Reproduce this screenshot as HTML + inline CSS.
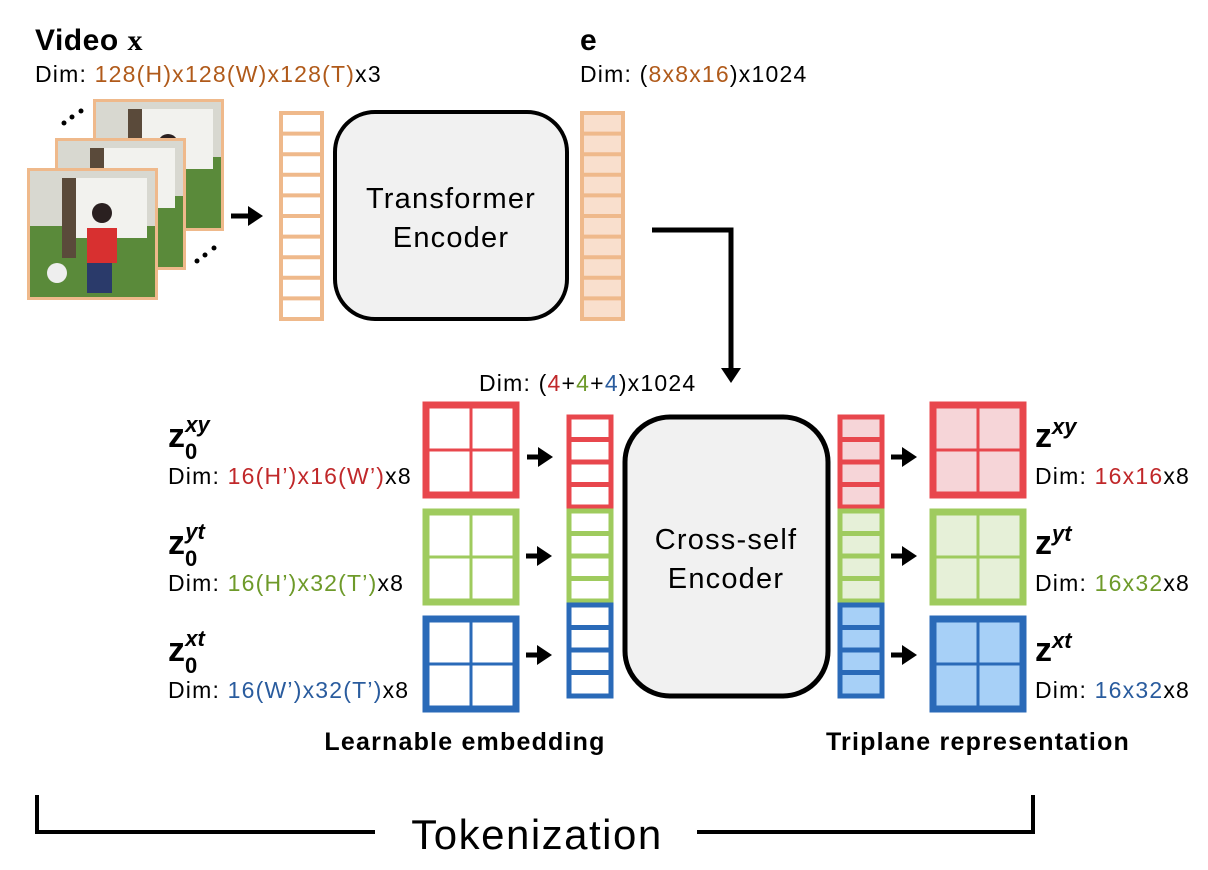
<!DOCTYPE html>
<html><head><meta charset="utf-8"><style>
html,body{margin:0;padding:0;background:#fff}
svg{display:block}
text{font-family:"Liberation Sans","DejaVu Sans",sans-serif}
.d{font-size:23px;letter-spacing:1.2px}
</style></head><body>
<svg width="1208" height="870" viewBox="0 0 1208 870" xmlns="http://www.w3.org/2000/svg">
<defs>
<marker id="ah" markerWidth="4" markerHeight="4" refX="2" refY="2" orient="auto" markerUnits="strokeWidth"><path d="M0,0 L3,2 L0,4 z" fill="#000"/></marker>
<g id="frame">
<rect x="0" y="0" width="131" height="132" fill="#EFB98B"/>
<rect x="3" y="3" width="125" height="126" fill="#5a8a3a"/>
<rect x="3" y="3" width="125" height="55" fill="#d8d8d0"/>
<rect x="40" y="10" width="80" height="60" fill="#f2f2ee"/>
<rect x="35" y="10" width="14" height="80" fill="#5a4a3a"/>
<rect x="60" y="60" width="30" height="35" fill="#d83030"/>
<rect x="60" y="95" width="25" height="30" fill="#2a3a6a"/>
<circle cx="75" cy="45" r="10" fill="#2a2020"/>
<circle cx="30" cy="105" r="10" fill="#eee"/>
</g>
</defs>

<text x="35" y="50" font-size="30" font-weight="bold" letter-spacing="0.5">Video <tspan font-family="Liberation Serif">x</tspan></text>
<text x="35" y="82" class="d">Dim: <tspan fill="#B05A1A">128(H)x128(W)x128(T)</tspan>x3</text>
<text x="580" y="50" font-size="30" font-weight="bold" font-family="Liberation Serif">e</text>
<text x="580" y="82" class="d">Dim: (<tspan fill="#B05A1A">8x8x16</tspan>)x1024</text>

<circle cx="64" cy="123" r="2.5"/><circle cx="72" cy="117" r="2.5"/><circle cx="81" cy="111" r="2.5"/>
<circle cx="197" cy="261" r="2.5"/><circle cx="205" cy="255" r="2.5"/><circle cx="214" cy="248" r="2.5"/>
<use href="#frame" x="93" y="99"/>
<use href="#frame" x="55" y="138"/>
<use href="#frame" x="27" y="168"/>

<line x1="231" y1="216" x2="258" y2="216" stroke="#000" stroke-width="5" marker-end="url(#ah)"/>

<g fill="none" stroke="#EFB98B" stroke-width="4">
<rect x="281" y="113" width="41" height="206"/>
<path d="M281,133.6H322M281,154.2H322M281,174.8H322M281,195.4H322M281,216H322M281,236.6H322M281,257.2H322M281,277.8H322M281,298.4H322"/>
</g>
<rect x="582" y="113" width="41" height="206" fill="#F9DFCD" stroke="#EFB98B" stroke-width="4"/>
<path d="M582,133.6H623M582,154.2H623M582,174.8H623M582,195.4H623M582,216H623M582,236.6H623M582,257.2H623M582,277.8H623M582,298.4H623" stroke="#EFB98B" stroke-width="4"/>

<rect x="335" y="112" width="232" height="207" rx="40" fill="#F1F1F1" stroke="#000" stroke-width="4"/>
<text x="451" y="208" font-size="29" letter-spacing="1.2" text-anchor="middle">Transformer</text>
<text x="451" y="247" font-size="29" letter-spacing="1.2" text-anchor="middle">Encoder</text>

<polyline points="652,230 731,230 731,378" fill="none" stroke="#000" stroke-width="5" marker-end="url(#ah)"/>
<text x="479" y="391" class="d">Dim: (<tspan fill="#C0282A">4</tspan>+<tspan fill="#6E9A2A">4</tspan>+<tspan fill="#2A5C9E">4</tspan>)x1024</text>

<g fill="#fff" stroke-width="7">
<rect x="426" y="405" width="90" height="90" stroke="#E8474D"/>
<rect x="426" y="512" width="90" height="90" stroke="#9FCB5E"/>
<rect x="426" y="619" width="90" height="90" stroke="#2A6AB8"/>
</g>
<path d="M471,405V495M426,450H516" stroke="#E8474D" stroke-width="3"/>
<path d="M471,512V602M426,557H516" stroke="#9FCB5E" stroke-width="3"/>
<path d="M471,619V709M426,664H516" stroke="#2A6AB8" stroke-width="3"/>

<g stroke="#000" stroke-width="5" marker-end="url(#ah)">
<line x1="527" y1="457" x2="548" y2="457"/>
<line x1="526" y1="556" x2="547" y2="556"/>
<line x1="526" y1="655" x2="547" y2="655"/>
<line x1="891" y1="457" x2="912" y2="457"/>
<line x1="891" y1="556" x2="912" y2="556"/>
<line x1="891" y1="655" x2="912" y2="655"/>
</g>

<g stroke-width="5">
<rect x="569" y="417" width="42" height="90" fill="#fff" stroke="#E8474D"/>
<path d="M569,439.5H611M569,462H611M569,484.5H611" stroke="#E8474D"/>
<rect x="569" y="511" width="42" height="90" fill="#fff" stroke="#9FCB5E"/>
<path d="M569,533.5H611M569,556H611M569,578.5H611" stroke="#9FCB5E"/>
<rect x="569" y="605" width="42" height="91" fill="#fff" stroke="#2A6AB8"/>
<path d="M569,627.5H611M569,650H611M569,672.5H611" stroke="#2A6AB8"/>

<rect x="840" y="417" width="42" height="90" fill="#F6D5D8" stroke="#E8474D"/>
<path d="M840,439.5H882M840,462H882M840,484.5H882" stroke="#E8474D"/>
<rect x="840" y="511" width="42" height="90" fill="#E6F0D8" stroke="#9FCB5E"/>
<path d="M840,533.5H882M840,556H882M840,578.5H882" stroke="#9FCB5E"/>
<rect x="840" y="605" width="42" height="91" fill="#A7D0F7" stroke="#2A6AB8"/>
<path d="M840,627.5H882M840,650H882M840,672.5H882" stroke="#2A6AB8"/>
</g>

<rect x="625" y="417" width="203" height="279" rx="45" fill="#F1F1F1" stroke="#000" stroke-width="5"/>
<text x="726" y="549" font-size="29" letter-spacing="1.2" text-anchor="middle">Cross-self</text>
<text x="726" y="588" font-size="29" letter-spacing="1.2" text-anchor="middle">Encoder</text>

<g stroke-width="7">
<rect x="933" y="405" width="90" height="90" fill="#F6D5D8" stroke="#E8474D"/>
<rect x="933" y="512" width="90" height="90" fill="#E6F0D8" stroke="#9FCB5E"/>
<rect x="933" y="619" width="90" height="90" fill="#A7D0F7" stroke="#2A6AB8"/>
</g>
<path d="M978,405V495M933,450H1023" stroke="#E8474D" stroke-width="3"/>
<path d="M978,512V602M933,557H1023" stroke="#9FCB5E" stroke-width="3"/>
<path d="M978,619V709M933,664H1023" stroke="#2A6AB8" stroke-width="3"/>

<g font-family="Liberation Serif" font-weight="bold">
<text x="168" y="447" font-size="34">z<tspan dy="12" font-size="22">0</tspan><tspan dx="-12" dy="-27" font-size="22" font-style="italic">xy</tspan></text>
<text x="168" y="554" font-size="34">z<tspan dy="12" font-size="22">0</tspan><tspan dx="-12" dy="-27" font-size="22" font-style="italic">yt</tspan></text>
<text x="168" y="661" font-size="34">z<tspan dy="12" font-size="22">0</tspan><tspan dx="-12" dy="-27" font-size="22" font-style="italic">xt</tspan></text>
<text x="1035" y="447" font-size="34">z<tspan dy="-13" font-size="22" font-style="italic">xy</tspan></text>
<text x="1035" y="554" font-size="34">z<tspan dy="-13" font-size="22" font-style="italic">yt</tspan></text>
<text x="1035" y="661" font-size="34">z<tspan dy="-13" font-size="22" font-style="italic">xt</tspan></text>
</g>
<text x="168" y="484" class="d">Dim: <tspan fill="#C0282A">16(H’)x16(W’)</tspan>x8</text>
<text x="168" y="591" class="d">Dim: <tspan fill="#6E9A2A">16(H’)x32(T’)</tspan>x8</text>
<text x="168" y="698" class="d">Dim: <tspan fill="#2A5C9E">16(W’)x32(T’)</tspan>x8</text>
<text x="1035" y="484" class="d">Dim: <tspan fill="#C0282A">16x16</tspan>x8</text>
<text x="1035" y="591" class="d">Dim: <tspan fill="#6E9A2A">16x32</tspan>x8</text>
<text x="1035" y="698" class="d">Dim: <tspan fill="#2A5C9E">16x32</tspan>x8</text>

<text x="465" y="750" font-size="25" letter-spacing="1.2" font-weight="bold" text-anchor="middle">Learnable embedding</text>
<text x="978" y="750" font-size="25" letter-spacing="1.2" font-weight="bold" text-anchor="middle">Triplane representation</text>

<polyline points="37,795 37,832 375,832" fill="none" stroke="#000" stroke-width="4"/>
<polyline points="697,832 1033,832 1033,795" fill="none" stroke="#000" stroke-width="4"/>
<text x="537" y="849" font-size="42" letter-spacing="1.5" text-anchor="middle">Tokenization</text>
</svg>
</body></html>
